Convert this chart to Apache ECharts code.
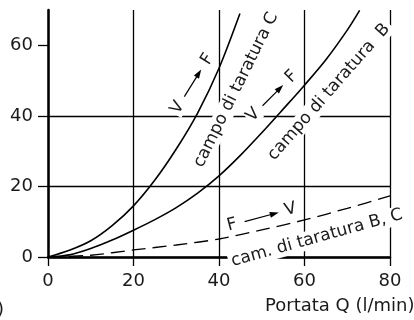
<!DOCTYPE html>
<html><head><meta charset="utf-8">
<script src="https://cdn.jsdelivr.net/npm/echarts@6/dist/echarts.min.js"></script>
<style>html,body{margin:0;padding:0;background:#fff}#c{width:414px;height:320px}</style>
</head><body><div id="c"></div>
<script>
// ---- data ----
const xTicks = [0, 20, 40, 60, 80];
const yTicks = [0, 20, 40, 60];
const curveCx = [0, 5, 10, 15, 20, 25, 30, 35, 40, 44.9];
const curveCy = [0, 1.9, 4.6, 8.9, 14.5, 21.8, 30.6, 40.8, 53.5, 69.0];
const curveBx = [0, 5, 10, 15, 20, 25, 30, 35, 40, 45, 50, 55, 60, 65, 70, 72.9];
const curveBy = [0, 0.6, 2.4, 4.8, 7.6, 10.6, 14.0, 18.1, 23.0, 28.8, 35.2, 41.9, 48.7, 55.9, 64.3, 69.9];
const dashX = [0, 10, 20, 30, 40, 50, 60, 70, 80];
const dashY = [0, 0.5, 2.0, 3.4, 5.1, 7.7, 10.5, 13.8, 17.3];
const labelC = 'campo di taratura C';
const labelB = 'campo di taratura  B';
const labelBC = 'cam. di taratura B, C';
const xName = 'Portata Q (l/min)';

const FONT = '"DejaVu Sans", "Liberation Sans", sans-serif';
const TXT = '#1a1a1a';
function zip(a, b) { return a.map((v, i) => [v, b[i]]); }
function rad(d) { return d * Math.PI / 180; }
function txtStyle(text, size, extra) {
  return Object.assign({
    text: text, font: size + 'px ' + FONT, fill: TXT,
    align: 'center', verticalAlign: 'middle',
    textAlign: 'center', textVerticalAlign: 'middle'
  }, extra || {});
}
function rotLabel(text, x, y, deg) {
  return { type: 'text', x: x, y: y, rotation: rad(deg), z: 1,
    style: txtStyle(text, 17, { backgroundColor: '#fff', padding: [1, 3] }) };
}
function arrowGroup(left, right, x, y, deg, half) {
  const a0 = -half + 13, a1 = half - 12;
  return { type: 'group', x: x, y: y, rotation: rad(deg), z: 1, children: [
    { type: 'text', x: -half, y: 0, z: 1, style: txtStyle(left, 17, { backgroundColor: '#fff', padding: [0, 1] }) },
    { type: 'line', z: 1, shape: { x1: a0, y1: 0, x2: a1 - 6, y2: 0 }, style: { stroke: '#000', lineWidth: 1.2 } },
    { type: 'polygon', z: 1, shape: { points: [[a1, 0], [a1 - 9, -3], [a1 - 9, 3]] }, style: { fill: '#000' } },
    { type: 'text', x: half, y: 0, z: 1, style: txtStyle(right, 17, { backgroundColor: '#fff', padding: [0, 1] }) }
  ]};
}

const chart = echarts.init(document.getElementById('c'), null, { renderer: 'canvas' });
const lineW = 1.3;
chart.setOption({
  animation: false,
  backgroundColor: '#fff',
  grid: { left: 48, right: 24, top: 10, bottom: 63, containLabel: false },
  xAxis: {
    type: 'value', min: 0, max: 80, interval: 20,
    axisLine: { show: true, onZero: false, lineStyle: { color: '#000', width: 2.5 } },
    axisTick: { show: true, length: 9, lineStyle: { color: '#000', width: lineW } },
    axisLabel: { fontFamily: FONT, fontSize: 18, color: TXT, margin: 15 },
    splitLine: { show: true, lineStyle: { color: '#000', width: lineW } }
  },
  yAxis: {
    type: 'value', min: 0, max: 70, interval: 20,
    axisLine: { show: true, onZero: false, lineStyle: { color: '#000', width: 2.5 } },
    axisTick: { show: true, length: 10, customValues: yTicks, lineStyle: { color: '#000', width: lineW } },
    axisLabel: { customValues: yTicks, fontFamily: FONT, fontSize: 18, color: TXT, margin: 15,
      formatter: v => (yTicks.indexOf(v) >= 0 ? String(v) : '') },
    splitLine: { show: true, showMaxLine: false, lineStyle: { color: '#000', width: lineW } }
  },
  series: [
    { type: 'line', data: zip(curveCx, curveCy), smooth: 0.3, symbol: 'none', z: 3,
      lineStyle: { color: '#000', width: 1.6 } },
    { type: 'line', data: zip(curveBx, curveBy), smooth: 0.3, symbol: 'none', z: 3,
      lineStyle: { color: '#000', width: 1.6 } },
    { type: 'line', data: zip(dashX, dashY), smooth: 0.3, symbol: 'none', z: 3,
      lineStyle: { color: '#000', width: 1.3, type: [14, 7] } }
  ],
  graphic: [
    rotLabel(labelC, 236, 90, 63.7),
    rotLabel(labelB, 329, 92, 48.7),
    rotLabel(labelBC, 317, 238, 15.5),
    arrowGroup('V', 'F', 192.5, 83.5, 58.2, 28.5),
    arrowGroup('V', 'F', 272.5, 95.8, 45, 27.1),
    arrowGroup('F', 'V', 261.2, 217.2, 15, 30.2),
    { type: 'text', x: 265, y: 306, z: 1, style: txtStyle(xName, 18, { align: 'left', textAlign: 'left' }) },
    { type: 'text', x: -3, y: 310, z: 1, style: txtStyle(')', 18, { align: 'left', textAlign: 'left' }) }
  ]
});
</script>
</body></html>
